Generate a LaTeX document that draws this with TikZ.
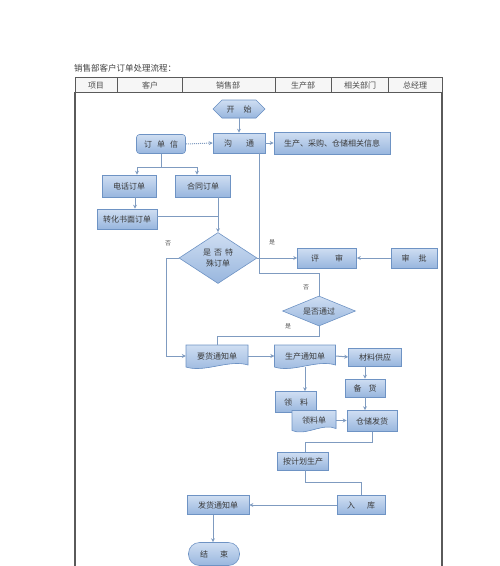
\documentclass[tikz,border=0pt]{standalone}
\usepackage{fontspec}
\setmainfont{Noto Sans CJK SC}
\usetikzlibrary{arrows.meta,shapes.geometric,calc}
\definecolor{nfillA}{HTML}{CFDEF2}
\definecolor{nfillB}{HTML}{98B6DE}
\definecolor{nline}{HTML}{6E93C4}
\definecolor{cline}{HTML}{7F9BC0}
\definecolor{ntext}{HTML}{3A3A3A}
\definecolor{tline}{HTML}{5A5A5A}
\newcommand\docnode[6]{%
  \filldraw[nline, top color=nfillA, bottom color=nfillB, line width=0.6pt]
    ({#2-#4/2},{#3-#5/2}) -- ({#2+#4/2},{#3-#5/2}) -- ({#2+#4/2},{#3+#5/2-2})
    .. controls ({#2+#4/5},{#3+#5/2-8}) and ({#2-#4/5},{#3+#5/2+6}) .. ({#2-#4/2},{#3+#5/2}) -- cycle;
  \node[txtonly, minimum width=#4, minimum height=#5] (#1) at (#2,#3) {#6};}
\begin{document}
\begin{tikzpicture}[x=1pt,y=-1pt,
  box/.style={draw=nline, top color=nfillA, bottom color=nfillB, line width=0.6pt, text=ntext,
    font=\fontsize{8}{9.5}\selectfont, inner sep=1pt, align=center},
  txtonly/.style={text=ntext, font=\fontsize{8}{9.5}\selectfont, inner sep=1pt, align=center},
  conn/.style={draw=cline, line width=1pt},
  arr/.style={conn, -{Stealth[length=4pt,width=4pt]}},
  lbl/.style={text=gray!70!black, font=\fontsize{6}{7}\selectfont, inner sep=0pt},
  hdr/.style={text=gray!60!black, font=\fontsize{8}{9}\selectfont, inner sep=0pt, anchor=base}
]
\useasboundingbox (0,0) rectangle (500,566);
% title and table
\node[anchor=west, font=\fontsize{8.5}{10}\selectfont, text=black!75, inner sep=0pt] (title) at (74,68) {销售部客户订单处理流程：};
\filldraw[draw=tline, fill=gray!7, line width=0.8pt] (75,77) rectangle (442,92);
\foreach \cx in {117,182,275,331,388} \draw[tline, line width=0.8pt] (\cx,77) -- (\cx,92);
\draw[tline, line width=1.2pt] (75,92) -- (75,566);
\draw[tline, line width=1.2pt] (442,92) -- (442,566);
\node[hdr] (h1) at (96,88) {项目};
\node[hdr] (h2) at (150,88) {客户};
\node[hdr] (h3) at (228,88) {销售部};
\node[hdr] (h4) at (303,88) {生产部};
\node[hdr] (h5) at (360,88) {相关部门};
\node[hdr] (h6) at (415,88) {总经理};
% start hexagon
\filldraw[nline, top color=nfillA, bottom color=nfillB, line width=0.6pt]
  (213,109) -- (222,100) -- (256,100) -- (265,109) -- (256,118) -- (222,118) -- cycle;
\node[txtonly, minimum width=52, minimum height=18] (start) at (239,109) {开\hspace{9pt}始};
% nodes
\node[box, minimum width=52, minimum height=20] (comm) at (239,143) {沟\hspace{14pt}通};
\node[box, rounded corners=3pt, minimum width=49, minimum height=19] (order) at (161,144) {订\hspace{5pt}单\hspace{5pt}信};
\node[box, minimum width=116, minimum height=22] (info) at (332,143) {生产、采购、仓储相关信息};
\node[box, minimum width=54, minimum height=22] (phone) at (129,186) {电话订单};
\node[box, minimum width=55, minimum height=22] (contract) at (203,186) {合同订单};
\node[box, minimum width=60, minimum height=20] (written) at (127,219) {转化书面订单};
\node[box, diamond, shape aspect=1.5, inner sep=0pt, minimum width=78, minimum height=51] (spec) at (218,258) {是\hspace{3pt}否\hspace{3pt}特\\[2pt]殊订单};
\node[box, minimum width=59, minimum height=20] (review) at (327,258) {评\hspace{16pt}审};
\node[box, minimum width=46, minimum height=20] (approve) at (414,258) {审\hspace{9pt}批};
\node[box, diamond, shape aspect=2.4, inner sep=0pt, minimum width=73, minimum height=30] (pass) at (319,311) {是否通过};
\docnode{reqn}{217}{356}{62}{22}{要货通知单}
\docnode{prodn}{305}{356}{61}{22}{生产通知单}
\node[box, minimum width=53, minimum height=18] (supply) at (375,357) {材料供应};
\node[box, minimum width=40, minimum height=18] (stock) at (365,388) {备\hspace{7pt}货};
\node[box, minimum width=41, minimum height=21] (pick) at (296,402) {领\hspace{8pt}料};
\docnode{pickslip}{314}{420.5}{44}{20}{领料单}
\node[box, minimum width=50, minimum height=21] (ship) at (372,421) {仓储发货};
\node[box, minimum width=51, minimum height=18] (plan) at (303,461) {按计划生产};
\node[box, minimum width=48, minimum height=19] (store) at (361,505) {入\hspace{12pt}库};
\node[box, minimum width=62, minimum height=19] (deliv) at (218,505) {发货通知单};
\node[box, rounded corners=11pt, minimum width=51, minimum height=23] (finish) at (214,554) {结\hspace{12pt}束};
% connectors
\draw[arr] (start.south) -- (comm.north);
\draw[conn, densely dotted, -{Stealth[length=4pt,width=4pt]}] (order.east) -- (comm.west);
\draw[arr] (comm.east) -- (info.west);
\draw[conn] (order.south) -- ++(0,14) coordinate (ob);
\draw[arr] (ob) -| ([xshift=8pt]phone.north);
\draw[arr] (ob) -| ([xshift=-6pt]contract.north);
\coordinate (p1) at ([xshift=6pt]phone.south);
\draw[arr] (p1) -- (p1 |- written.north);
\coordinate (w1) at ([yshift=3pt]written.east);
\draw[conn] (w1) -- (w1 -| spec.north);
\draw[arr] ([xshift=15pt]contract.south) -- (spec.north);
\draw[arr] (spec.east) -- (review.west);
\draw[arr] (approve.west) -- (review.east);
\draw[arr] (spec.west) -- ++(-12,0) |- (reqn.west);
\coordinate (k1) at (259,273);
\draw[conn] (pass.north) |- (k1) -- (k1 |- comm.south);
\coordinate (k2) at (217,336);
\draw[conn] (pass.south) |- (k2) -- (k2 |- reqn.north);
\draw[arr] (reqn.east) -- (prodn.west);
\draw[arr] (prodn.east) -- (supply.west);
\coordinate (s1) at ([xshift=-10pt]supply.south);
\draw[arr] (s1) -- (s1 |- stock.north);
\draw[arr] (stock.south) -- (stock.south |- ship.north);
\draw[arr] (prodn.south) -- (prodn.south |- pick.north);
\draw[arr] (pickslip.east) -- (pickslip.east -| ship.west);
\coordinate (k3) at (305,442);
\draw[conn] (ship.south) |- (k3) -- (k3 |- plan.north);
\coordinate (k4) at (305,482);
\draw[conn] (k4 |- plan.south) -- (k4) -| (store.north);
\draw[arr] (store.west) -- (deliv.east);
\coordinate (d1) at ([xshift=-5pt]deliv.south);
\draw[arr] (d1) -- (d1 |- finish.north);
% labels
\node[lbl] (l1) at (272,242) {是};
\node[lbl] (l2) at (168,243) {否};
\node[lbl] (l3) at (306,287) {否};
\node[lbl] (l4) at (288,326) {是};
\end{tikzpicture}
\end{document}
